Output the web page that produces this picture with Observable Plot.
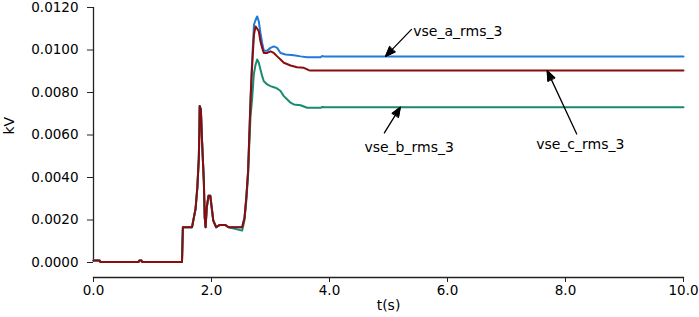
<!DOCTYPE html>
<html><head><meta charset="utf-8">
<script src="https://cdn.jsdelivr.net/npm/d3@7"></script>
<script src="https://cdn.jsdelivr.net/npm/@observablehq/plot@0.6"></script>
<style>body{margin:0;background:#fff}</style>
</head><body><div id="chart"></div>
<script>
// Series
const seriesNames = ["vse_a_rms_3", "vse_b_rms_3", "vse_c_rms_3"];
const seriesColors = ["#1f7ad8", "#1a8b6f", "#8c0b0b"];

// Shared part (all three phases identical before t ≈ 2.5 s)
const tEarly = [0, 0.1, 0.12, 0.76, 0.78, 0.81, 0.83, 1.50, 1.515, 1.67, 1.70, 1.73, 1.76, 1.785, 1.795, 1.80, 1.82, 1.84, 1.87, 1.885, 1.90, 1.92, 1.95, 1.98, 2.0, 2.03, 2.08, 2.14, 2.23, 2.29];
const vEarly = [0.0001, 0.0001, 0.00002, 0.00002, 0.0001, 0.0001, 0.00002, 0.00002, 0.00166, 0.00166, 0.0021, 0.00253, 0.00353, 0.0049, 0.0063, 0.00736, 0.0072, 0.0057, 0.00384, 0.00212, 0.00166, 0.0026, 0.00314, 0.00314, 0.00267, 0.00197, 0.00166, 0.00177, 0.00177, 0.00166];

// Phase a (blue)
const tLateA = [2.52, 2.56, 2.59, 2.62, 2.64, 2.66, 2.68, 2.70, 2.72, 2.746, 2.774, 2.802, 2.83, 2.859, 2.887, 2.944, 3.0, 3.056, 3.113, 3.17, 3.254, 3.395, 3.51, 3.62, 3.85, 3.876, 3.9, 10];
const vLateA = [0.00166, 0.00212, 0.00306, 0.0043, 0.0059, 0.0076, 0.009, 0.0101, 0.0112, 0.0114, 0.01158, 0.01134, 0.0108, 0.01033, 0.00997, 0.00997, 0.0101, 0.01017, 0.0101, 0.00986, 0.00979, 0.00975, 0.0097, 0.00966, 0.00966, 0.00972, 0.0097, 0.0097];

// Phase b (green)
const tLateB = [2.52, 2.56, 2.59, 2.62, 2.64, 2.66, 2.69, 2.717, 2.746, 2.774, 2.802, 2.83, 2.859, 2.887, 2.944, 3.0, 3.056, 3.113, 3.17, 3.226, 3.28, 3.34, 3.395, 3.51, 3.62, 3.85, 3.876, 3.93, 10];
const vLateB = [0.0015, 0.002, 0.0029, 0.0041, 0.0055, 0.0068, 0.00775, 0.00885, 0.0093, 0.00955, 0.0094, 0.00908, 0.00877, 0.00853, 0.00838, 0.0083, 0.00825, 0.00819, 0.00807, 0.00783, 0.00768, 0.00752, 0.00744, 0.0074, 0.00728, 0.00728, 0.00732, 0.00731, 0.00731];

// Phase c (dark red)
const tLateC = [2.52, 2.56, 2.59, 2.62, 2.64, 2.66, 2.68, 2.70, 2.72, 2.746, 2.774, 2.802, 2.83, 2.859, 2.887, 2.944, 3.0, 3.056, 3.113, 3.17, 3.226, 3.34, 3.45, 3.565, 3.65, 3.68, 10];
const vLateC = [0.00166, 0.00212, 0.00306, 0.0043, 0.0059, 0.0075, 0.0088, 0.0098, 0.01072, 0.01111, 0.011, 0.01088, 0.0104, 0.0101, 0.00986, 0.00986, 0.00994, 0.00986, 0.0097, 0.00955, 0.0094, 0.00927, 0.00919, 0.00916, 0.00905, 0.00903, 0.00903];

// Ticks
const xTicks = [0, 2, 4, 6, 8, 10];
const yTicks = [0, 0.002, 0.004, 0.006, 0.008, 0.010, 0.012];

// Annotations: label position and arrow (tail -> tip)
const labelT = [5.42, 5.35, 8.25];
const labelV = [0.01088, 0.0054, 0.00553];
const labelAnchor = ["start", "middle", "middle"];
const arrowT1 = [5.39, 4.93, 8.19];
const arrowV1 = [0.01097, 0.0061, 0.00605];
const arrowT2 = [4.95, 5.2, 7.69];
const arrowV2 = [0.0097, 0.00731, 0.00903];

const lateT = [tLateA, tLateB, tLateC];
const lateV = [vLateA, vLateB, vLateC];
const rows = [];
seriesNames.forEach((s, i) => {
  tEarly.forEach((t, j) => rows.push({s, t, v: vEarly[j]}));
  lateT[i].forEach((t, j) => rows.push({s, t, v: lateV[i][j]}));
});
const ann = seriesNames.map((s, i) => ({
  s, lt: labelT[i], lv: labelV[i], anchor: labelAnchor[i],
  t1: arrowT1[i], v1: arrowV1[i], t2: arrowT2[i], v2: arrowV2[i]
}));

const chart = Plot.plot({
  width: 699, height: 317,
  marginLeft: 93, marginRight: 16, marginTop: 7, marginBottom: 40,
  insetBottom: 15,
  x: {domain: [0, 10]},
  y: {domain: [0, 0.012]},
  color: {domain: seriesNames, range: seriesColors},
  style: {fontFamily: "DejaVu Sans", fontSize: "13.5px", color: "#000", background: "#fff"},
  marks: [
    Plot.axisY({ticks: yTicks, tickFormat: d3.format(".4f"), tickSize: 6, tickPadding: 9, label: null, stroke: "#222"}),
    Plot.axisX({ticks: xTicks, tickFormat: d3.format(".1f"), tickSize: 5, tickPadding: 3, label: null, stroke: "#222"}),
    Plot.ruleX([0], {y1: 0, y2: 0.012, stroke: "#222", strokeWidth: 1.3}),
    Plot.frame({anchor: "bottom", stroke: "#222", strokeWidth: 1.3}),
    Plot.line(rows, {x: "t", y: "v", z: "s", stroke: "s", strokeWidth: 2, curve: "linear"}),
    Plot.arrow(ann, {x1: "t1", y1: "v1", x2: "t2", y2: "v2", stroke: "#000", strokeWidth: 1.3, headLength: 12, headAngle: 42}),
    Plot.text(ann.filter(d => d.anchor === "start"), {x: "lt", y: "lv", text: "s", textAnchor: "start", fontSize: 14}),
    Plot.text(ann.filter(d => d.anchor === "middle"), {x: "lt", y: "lv", text: "s", textAnchor: "middle", fontSize: 14}),
    Plot.text(["t(s)"], {frameAnchor: "bottom", dy: 32, text: d => d, fontSize: 14}),
    Plot.text(["kV"], {frameAnchor: "left", dx: -84, dy: -8, rotate: -90, text: d => d, fontSize: 14})
  ]
});

// Fill the arrow heads (the reference uses solid triangles)
chart.querySelectorAll('g[aria-label="arrow"] path').forEach(p => {
  const n = (p.getAttribute("d").match(/-?\d+(\.\d+)?(e-?\d+)?/g) || []).map(Number);
  if (n.length >= 6) {
    const k = n.slice(-6);
    const tri = document.createElementNS("http://www.w3.org/2000/svg", "path");
    tri.setAttribute("d", `M${k[0]},${k[1]}L${k[2]},${k[3]}L${k[4]},${k[5]}Z`);
    tri.setAttribute("fill", "#000");
    tri.setAttribute("stroke", "#000");
    tri.setAttribute("stroke-width", "1");
    p.parentNode.appendChild(tri);
  }
});

document.getElementById("chart").appendChild(chart);
</script>
</body></html>
